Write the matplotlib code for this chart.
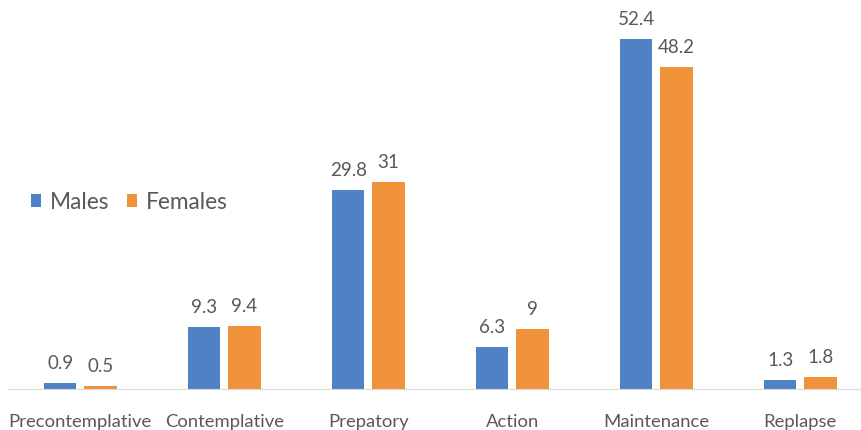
import matplotlib.pyplot as plt
import numpy as np

# datos
stages = ['Precontemplative', 'Contemplative', 'Prepatory', 'Action', 'Maintenance', 'Replapse']
males = [0.9, 9.3, 29.8, 6.3, 52.4, 1.3]
females = [0.5, 9.4, 31, 9, 48.2, 1.8]
male_labels = ['0.9', '9.3', '29.8', '6.3', '52.4', '1.3']
female_labels = ['0.5', '9.4', '31', '9', '48.2', '1.8']

blue = '#4F81C5'
orange = '#F0923A'
grey = '#595959'

plt.rcParams['font.family'] = ['Lato', 'DejaVu Sans']

fig = plt.figure(figsize=(8.62, 4.3), dpi=100)
# el eje se sale un poco por la derecha, como en el original
ax = fig.add_axes([8.3 / 862, 41 / 430, 864 / 862, 389 / 430])

x = np.arange(len(stages))
w = 0.226
b1 = ax.bar(x - 0.14, males, w, color=blue, label='Males')
b2 = ax.bar(x + 0.14, females, w, color=orange, label='Females')

ax.bar_label(b1, labels=male_labels, padding=8, fontsize=13.5, color=grey)
ax.bar_label(b2, labels=female_labels, padding=8, fontsize=13.5, color=grey)

ax.set_xlim(-0.5, 5.5)
ax.set_ylim(0, 58.24)
ax.set_xticks(x)
ax.set_xticklabels(stages, fontsize=13.3, color=grey)
ax.tick_params(axis='x', length=0, pad=18)
ax.set_yticks([])
for s in ['top', 'left', 'right']:
    ax.spines[s].set_visible(False)
ax.spines['bottom'].set_color('#D9D9D9')

fig.legend(loc='center left', bbox_to_anchor=(31 / 862, 1 - 202 / 430), frameon=False, fontsize=16.3,
           handlelength=0.45, handleheight=0.45, handletextpad=0.4, columnspacing=0.75,
           ncol=2, labelcolor=grey, borderaxespad=0, borderpad=0)

plt.savefig('out.png', dpi=100)
